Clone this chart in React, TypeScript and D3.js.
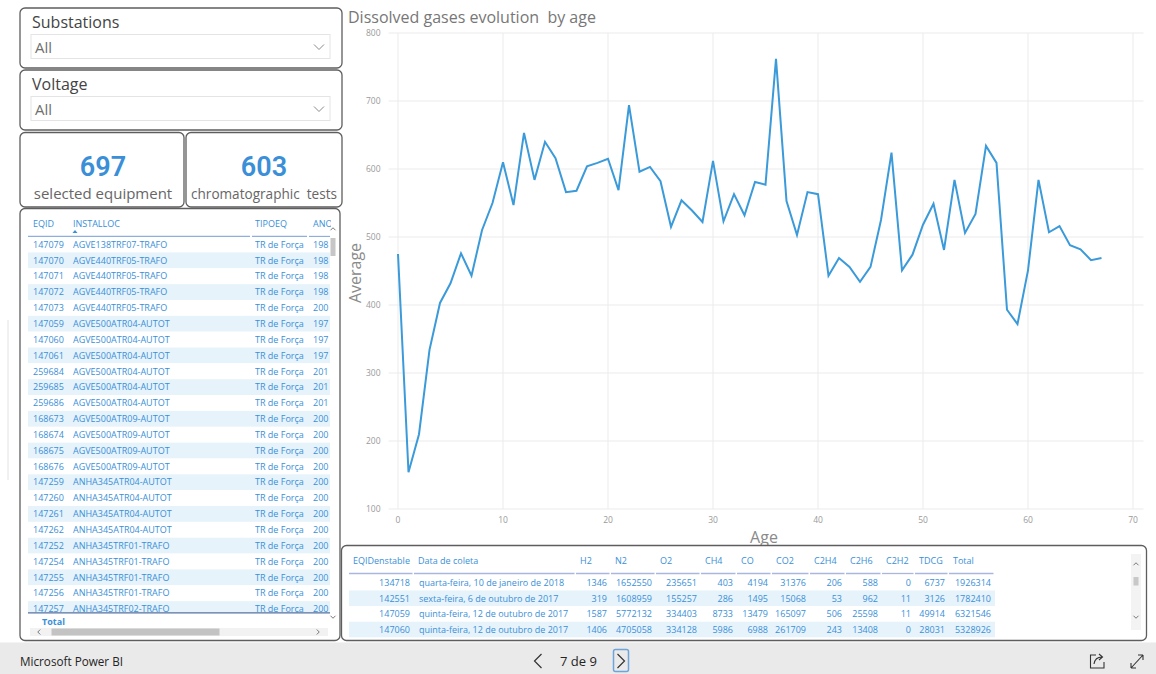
import React from 'react';
import * as d3 from 'd3';

// ---------- DATA ----------
const ages = [0, 1, 2, 3, 4, 5, 6, 7, 8, 9, 10, 11, 12, 13, 14, 15, 16, 17, 18, 19, 20, 21, 22, 23, 24, 25, 26, 27, 28, 29, 30, 31, 32, 33, 34, 35, 36, 37, 38, 39, 40, 41, 42, 43, 44, 45, 46, 47, 48, 49, 50, 51, 52, 53, 54, 55, 56, 57, 58, 59, 60, 61, 62, 63, 64, 65, 66, 67];
const averages = [475, 154, 210, 334, 403, 432, 476, 443, 510, 550, 610, 547, 653, 584, 640, 616, 566, 568, 604, 609, 615, 569, 694, 596, 603, 582, 515, 554, 539, 522, 612, 523, 563, 532, 581, 577, 762, 553, 503, 566, 563, 443, 469, 456, 434, 456, 525, 624, 451, 474, 518, 549, 481, 584, 506, 534, 634, 609, 393, 372, 451, 584, 507, 516, 488, 482, 466, 469];
const yTicks = [100, 200, 300, 400, 500, 600, 700, 800];
const xTicks = [0, 10, 20, 30, 40, 50, 60, 70];

const chartTitle = 'Dissolved gases evolution  by age';
const selectedEquipment = 697;
const chromatographicTests = 603;

const equipHeaders = ['EQID', 'INSTALLOC', 'TIPOEQ', 'ANO'];
const eqIds = ['147079', '147070', '147071', '147072', '147073', '147059', '147060', '147061', '259684', '259685', '259686', '168673', '168674', '168675', '168676', '147259', '147260', '147261', '147262', '147252', '147254', '147255', '147256', '147257'];
const installLocs = ['AGVE138TRF07-TRAFO', 'AGVE440TRF05-TRAFO', 'AGVE440TRF05-TRAFO', 'AGVE440TRF05-TRAFO', 'AGVE440TRF05-TRAFO', 'AGVE500ATR04-AUTOT', 'AGVE500ATR04-AUTOT', 'AGVE500ATR04-AUTOT', 'AGVE500ATR04-AUTOT', 'AGVE500ATR04-AUTOT', 'AGVE500ATR04-AUTOT', 'AGVE500ATR09-AUTOT', 'AGVE500ATR09-AUTOT', 'AGVE500ATR09-AUTOT', 'AGVE500ATR09-AUTOT', 'ANHA345ATR04-AUTOT', 'ANHA345ATR04-AUTOT', 'ANHA345ATR04-AUTOT', 'ANHA345ATR04-AUTOT', 'ANHA345TRF01-TRAFO', 'ANHA345TRF01-TRAFO', 'ANHA345TRF01-TRAFO', 'ANHA345TRF01-TRAFO', 'ANHA345TRF02-TRAFO'];
const tipoEq = 'TR de Força';
const anoPrefixes = ['198', '198', '198', '198', '200', '197', '197', '197', '201', '201', '201', '200', '200', '200', '200', '200', '200', '200', '200', '200', '200', '200', '200', '200'];

const labHeaders = ['EQIDenstable', 'Data de coleta', 'H2', 'N2', 'O2', 'CH4', 'CO', 'CO2', 'C2H4', 'C2H6', 'C2H2', 'TDCG', 'Total'];
const labEqIds = ['134718', '142551', '147059', '147060'];
const labDates = ['quarta-feira, 10 de janeiro de 2018', 'sexta-feira, 6 de outubro de 2017', 'quinta-feira, 12 de outubro de 2017', 'quinta-feira, 12 de outubro de 2017'];
const labH2 = [1346, 319, 1587, 1406];
const labN2 = [1652550, 1608959, 5772132, 4705058];
const labO2 = [235651, 155257, 334403, 334128];
const labCH4 = [403, 286, 8733, 5986];
const labCO = [4194, 1495, 13479, 6988];
const labCO2 = [31376, 15068, 165097, 261709];
const labC2H4 = [206, 53, 506, 243];
const labC2H6 = [588, 962, 25598, 13408];
const labC2H2 = [0, 11, 11, 0];
const labTDCG = [6737, 3126, 49914, 28031];
const labTotal = [1926314, 1782410, 6321546, 5328926];
const labGasColumns = [labH2, labN2, labO2, labCH4, labCO, labCO2, labC2H4, labC2H6, labC2H2, labTDCG, labTotal];

// ---------- STYLE / LAYOUT ----------
const UI = "'Open Sans', 'Noto Sans', 'DejaVu Sans', sans-serif";
const BLUE = '#3a8fd8';
const BAND = '#e6f3fb';
const BORDER = '#5e5e5e';
const labColEdges = [349, 414, 576, 611, 656, 701, 737, 772, 810, 846, 882, 915, 949, 995];
const eqColX = [33, 73, 255, 313];

function Chevron({ cx, cy, dir, size = 4, color = '#888', w = 1 }: { cx: number; cy: number; dir: 'up' | 'down' | 'left' | 'right'; size?: number; color?: string; w?: number }) {
  const s = size;
  let d = '';
  if (dir === 'down') d = `M${cx - s},${cy - s / 2} L${cx},${cy + s / 2} L${cx + s},${cy - s / 2}`;
  if (dir === 'up') d = `M${cx - s},${cy + s / 2} L${cx},${cy - s / 2} L${cx + s},${cy + s / 2}`;
  if (dir === 'left') d = `M${cx + s / 2},${cy - s} L${cx - s / 2},${cy} L${cx + s / 2},${cy + s}`;
  if (dir === 'right') d = `M${cx - s / 2},${cy - s} L${cx + s / 2},${cy} L${cx - s / 2},${cy + s}`;
  return <path d={d} fill="none" stroke={color} strokeWidth={w} />;
}

function Slicer({ y, title }: { y: number; title: string }) {
  return (
    <g>
      <rect x={20} y={y} width={322} height={60} rx={5} fill="#fff" stroke={BORDER} strokeWidth={1.3} />
      <text x={32} y={y + 20} fontSize={16} fill="#444" fontFamily={UI}>{title}</text>
      <rect x={31} y={y + 26.5} width={299} height={24} fill="#fff" stroke="#e4e4e4" />
      <text x={35} y={y + 45} fontSize={15} fill="#707070" fontFamily={UI}>All</text>
      <Chevron cx={319} cy={y + 39} dir="down" size={5} color="#8a8a8a" />
    </g>
  );
}

export default function App() {
  const x = d3.scaleLinear().domain([0, 70]).range([398, 1133]);
  const y = d3.scaleLinear().domain([100, 800]).range([509, 33]);
  const line = d3.line<number>().x((_, i) => x(ages[i])).y((d) => y(d));
  const gridX0 = x(-0.9);
  const gridX1 = x(71);

  const rowH = 15.85;
  const row0 = 244.5;
  const labRowH = 15.6;
  const labRow0 = 582.7;

  return (
    <svg width={1156} height={674} style={{ position: 'absolute', left: 0, top: 0, background: '#fff' }} fontFamily={UI}>
      <defs>
        <clipPath id="eqClip"><rect x={24} y={237} width={307} height={375.5} /></clipPath>
        <clipPath id="eqHeadClip"><rect x={24} y={210} width={307} height={26} /></clipPath>
      </defs>
      <rect x={0} y={0} width={1156} height={674} fill="#fff" />
      <line x1={8} y1={320} x2={8} y2={480} stroke="#e2e2e2" />

      {/* Slicers */}
      <Slicer y={8} title="Substations" />
      <Slicer y={70} title="Voltage" />

      {/* Cards */}
      <rect x={20} y={132.5} width={164} height={74.5} rx={5} fill="#fff" stroke={BORDER} strokeWidth={1.3} />
      <rect x={186} y={132.5} width={156} height={74.5} rx={5} fill="#fff" stroke={BORDER} strokeWidth={1.3} />
      <text x={103} y={175.5} textAnchor="middle" fontSize={27} fontWeight={600} fill={BLUE} fontFamily="Roboto, 'DejaVu Sans', sans-serif">{selectedEquipment}</text>
      <text x={103} y={199} textAnchor="middle" fontSize={15} fill="#666">selected equipment</text>
      <text x={264} y={175.5} textAnchor="middle" fontSize={27} fontWeight={600} fill={BLUE} fontFamily="Roboto, 'DejaVu Sans', sans-serif">{chromatographicTests}</text>
      <text x={191} y={199} fontSize={14} fill="#666" textLength={146} lengthAdjust="spacingAndGlyphs" style={{ whiteSpace: 'pre' }}>chromatographic  tests</text>

      {/* Equipment table */}
      <rect x={20} y={208.5} width={320} height={432} rx={5} fill="#fff" stroke={BORDER} strokeWidth={1.3} />
      <g clipPath="url(#eqHeadClip)">
        {equipHeaders.map((h, i) => (
          <text key={h} x={eqColX[i]} y={226.5} fontSize={9} fill={BLUE}>{h}</text>
        ))}
      </g>
      <path d="M72.5,233 L75,230 L77.5,233 Z" fill={BLUE} />
      <line x1={28} y1={236.5} x2={250} y2={236.5} stroke="#8eaee0" strokeWidth={1.3} />
      <line x1={252} y1={236.5} x2={307} y2={236.5} stroke="#8eaee0" strokeWidth={1.3} />
      <line x1={309} y1={236.5} x2={330} y2={236.5} stroke="#8eaee0" strokeWidth={1.3} />
      <g clipPath="url(#eqClip)">
        {eqIds.map((id, i) => {
          const yc = row0 + i * rowH;
          return (
            <g key={i}>
              <rect x={28} y={yc - rowH / 2} width={302} height={rowH} fill={i % 2 === 1 ? BAND : '#fff'} />
              <text x={eqColX[0]} y={yc + 3.2} fontSize={9} fill={BLUE}>{id}</text>
              <text x={eqColX[1]} y={yc + 3.2} fontSize={9} fill={BLUE}>{installLocs[i]}</text>
              <text x={eqColX[2]} y={yc + 3.2} fontSize={9} fill={BLUE}>{tipoEq}</text>
              <text x={eqColX[3]} y={yc + 3.2} fontSize={9} fill={BLUE}>{anoPrefixes[i]}</text>
            </g>
          );
        })}
      </g>
      <line x1={28} y1={612.8} x2={330} y2={612.8} stroke="#55719f" strokeWidth={1.2} />
      <text x={42} y={625} fontSize={9} fontWeight={700} fill={BLUE}>Total</text>
      {/* vertical scrollbar */}
      <Chevron cx={333} cy={229} dir="up" size={2.5} color="#777" />
      <rect x={330.5} y={238} width={5} height={18} fill="#c6c6c6" />
      <Chevron cx={333} cy={617} dir="down" size={2.5} color="#777" />
      {/* horizontal scrollbar */}
      <rect x={30} y={628} width={298} height={8} fill="#f2f2f2" />
      <rect x={51.5} y={628.5} width={168} height={7} fill="#c3c3c3" />
      <Chevron cx={39} cy={632} dir="left" size={2.5} color="#777" />
      <Chevron cx={318} cy={632} dir="right" size={2.5} color="#777" />

      {/* Line chart */}
      <text x={348} y={23} fontSize={16} fill="#777" style={{ whiteSpace: 'pre' }}>{chartTitle}</text>
      {yTicks.map((t) => (
        <line key={'gy' + t} x1={gridX0} x2={gridX1} y1={y(t)} y2={y(t)} stroke="#ebebeb" strokeWidth={1} />
      ))}
      {xTicks.map((t) => (
        <line key={'gx' + t} x1={x(t)} x2={x(t)} y1={y(100)} y2={y(800)} stroke="#ebebeb" strokeWidth={1} />
      ))}
      {yTicks.map((t) => (
        <text key={'ty' + t} x={380.5} y={y(t) + 3} textAnchor="end" fontSize={8.5} fill="#9a9a9a">{t}</text>
      ))}
      {xTicks.map((t) => (
        <text key={'tx' + t} x={x(t)} y={522.5} textAnchor="middle" fontSize={8.5} fill="#9a9a9a">{t}</text>
      ))}
      <text transform="translate(361,273) rotate(-90)" textAnchor="middle" fontSize={16} fill="#8a8a8a">Average</text>
      <text x={764} y={543} textAnchor="middle" fontSize={16} fill="#8a8a8a">Age</text>
      <path d={line(averages) || ''} fill="none" stroke="#3b9ad9" strokeWidth={2} />

      {/* Lab results table */}
      <rect x={341.5} y={545.5} width={805} height={95} rx={5} fill="#fff" stroke={BORDER} strokeWidth={1.3} />
      {labHeaders.map((h, i) => (
        <text key={h} x={labColEdges[i] + 4} y={564} fontSize={9} fill={BLUE}>{h}</text>
      ))}
      {labHeaders.map((h, i) => (
        <line key={'u' + h} x1={labColEdges[i]} x2={labColEdges[i + 1] - 1.5} y1={573.5} y2={573.5} stroke="#a9b7df" strokeWidth={1.3} />
      ))}
      {labEqIds.map((id, r) => {
        const yc = labRow0 + r * labRowH;
        return (
          <g key={r}>
            <rect x={349} y={yc - labRowH / 2} width={646} height={labRowH} fill={r % 2 === 1 ? BAND : '#fff'} />
            <text x={labColEdges[1] - 4} y={yc + 3.2} textAnchor="end" fontSize={9} fill={BLUE}>{id}</text>
            <text x={labColEdges[1] + 5} y={yc + 3.2} fontSize={9} fill={BLUE}>{labDates[r]}</text>
            {labGasColumns.map((col, c) => (
              <text key={c} x={labColEdges[c + 3] - 4} y={yc + 3.2} textAnchor="end" fontSize={9} fill={BLUE}>{col[r]}</text>
            ))}
          </g>
        );
      })}
      <rect x={1131} y={554} width={10} height={76} fill="#f3f3f3" />
      <Chevron cx={1136} cy={564} dir="up" size={2.5} color="#777" />
      <rect x={1133.5} y={577} width={5} height={8.5} fill="#c8c8c8" />
      <Chevron cx={1136} cy={617} dir="down" size={2.5} color="#777" />

      {/* Footer */}
      <rect x={0} y={642.5} width={1156} height={31.5} fill="#eaeaea" />
      <text x={20} y={666} fontSize={13} fill="#252423" textLength={103} lengthAdjust="spacingAndGlyphs">Microsoft Power BI</text>
      <Chevron cx={538} cy={661} dir="left" size={7} color="#333" w={1.2} />
      <text x={560} y={666} fontSize={13} fill="#252423">7 de 9</text>
      <rect x={613.5} y={649.5} width={15} height={22} rx={2} fill="none" stroke="#6ea4dc" strokeWidth={1.5} />
      <Chevron cx={621} cy={661} dir="right" size={7} color="#333" w={1.2} />
      {/* share icon */}
      <path d="M1096,655 L1090.5,655 L1090.5,668 L1104,668 L1104,662" fill="none" stroke="#333" strokeWidth={1.1} />
      <path d="M1094,664 Q1095,657 1102,657 M1099,654 L1102.5,657 L1099,660" fill="none" stroke="#333" strokeWidth={1.1} />
      {/* expand icon */}
      <path d="M1131,668 L1143,655 M1131,668 L1131,663 M1131,668 L1136,668 M1143,655 L1138,655 M1143,655 L1143,660" fill="none" stroke="#333" strokeWidth={1.1} />
    </svg>
  );
}
